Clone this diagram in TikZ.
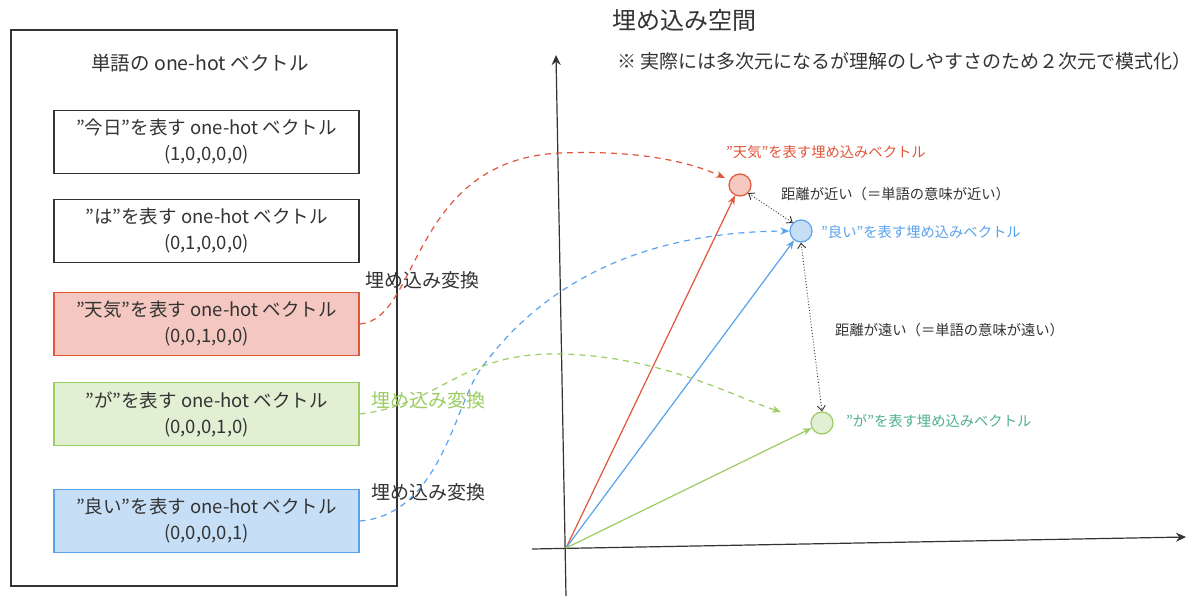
\documentclass[tikz,border=0pt]{standalone}
\usepackage{fontspec}
\setmainfont{Noto Sans CJK JP}
\usetikzlibrary{arrows.meta}
\definecolor{tred}{HTML}{E0563B}
\definecolor{tredf}{HTML}{F4C7C0}
\definecolor{tblue}{HTML}{5AA2EE}
\definecolor{tbluef}{HTML}{C6DFF7}
\definecolor{tgreen}{HTML}{9BCD63}
\definecolor{tgreenf}{HTML}{E1EFD3}
\definecolor{tteal}{HTML}{4FB090}
\definecolor{tgray}{HTML}{333333}
\tikzset{
  x=1pt,y=-1pt,
  wbox/.style={draw=tgray,line width=1.2pt,minimum width=305pt,minimum height=63pt,align=center,font=\fontsize{18.5}{26}\selectfont,text=tgray,inner sep=0pt},
  lbl/.style={font=\fontsize{14.3}{16}\selectfont,inner sep=0pt},
  tlbl/.style={font=\fontsize{19}{22}\selectfont,inner sep=0pt},
  pt/.style={circle,minimum size=22pt,inner sep=0pt,line width=1.2pt},
  vec/.style={line width=1.2pt,-{Stealth[length=9pt,width=7pt]}},
  dsh/.style={line width=1.2pt,dash pattern=on 6pt off 5pt,-{Stealth[length=9pt,width=7pt]}},
  dist/.style={line width=0.9pt,dotted,tgray,{Straight Barb[length=5pt,width=8pt]}-{Straight Barb[length=5pt,width=8pt]}},
}
\begin{document}
\begin{tikzpicture}
\useasboundingbox (0,0) rectangle (1200,599);
\fill[white] (0,0) rectangle (1200,599);
% left panel
\node[draw=tgray,line width=1.2pt,minimum width=386pt,minimum height=556pt,inner sep=0pt] (panel) at (204,308) {};
\node[font=\fontsize{19.5}{22}\selectfont,text=tgray,inner sep=0pt] (ptitle) at (200,63) {単語の one-hot ベクトル};
\node[wbox] (b1) at (206.5,142) {"今日"を表す one-hot ベクトル\\(1,0,0,0,0)};
\node[wbox] (b2) at (206.5,231) {"は"を表す one-hot ベクトル\\(0,1,0,0,0)};
\node[wbox,draw=tred,fill=tredf] (b3) at (206.5,324) {"天気"を表す one-hot ベクトル\\(0,0,1,0,0)};
\node[wbox,draw=tgreen,fill=tgreenf] (b4) at (206.5,414) {"が"を表す one-hot ベクトル\\(0,0,0,1,0)};
\node[wbox,draw=tblue,fill=tbluef] (b5) at (206.5,521) {"良い"を表す one-hot ベクトル\\(0,0,0,0,1)};
% transform labels
\node[tlbl,text=tgray] (t1) at (422,280) {埋め込み変換};
\node[tlbl,text=tgreen] (t2) at (428,400) {埋め込み変換};
\node[tlbl,text=tgray] (t3) at (428,492) {埋め込み変換};
% titles
\node[font=\fontsize{24}{28}\selectfont,text=tgray,inner sep=0pt] (title) at (684,20) {埋め込み空間};
\node[font=\fontsize{19}{22}\selectfont,text=tgray,inner sep=0pt,anchor=west] (note) at (617,61) {※ 実際には多次元になるが理解のしやすさのため２次元で模式化）};
% axes
\coordinate (o) at (566,548);
\coordinate (ybot) at (566,596);
\coordinate (ytop) at (556,55);
\coordinate (xl) at (532,549);
\coordinate (xr) at (1186,537);
\draw[tgray,line width=1.2pt,-{Stealth[length=10pt,width=9pt]}] (ybot) -- (ytop);
\draw[tgray,line width=1.2pt,-{Stealth[length=10pt,width=9pt]}] (xl) -- (xr);
% points
\node[pt,draw=tred,fill=tredf] (pr) at (740,185) {};
\node[pt,draw=tblue,fill=tbluef] (pb) at (801,231) {};
\node[pt,draw=tgreen,fill=tgreenf] (pg) at (822,423) {};
\node[lbl,text=tred,anchor=west] (lr) at (726,152) {"天気"を表す埋め込みベクトル};
\node[lbl,text=tblue,anchor=west] (lb) at (821,232) {"良い"を表す埋め込みベクトル};
\node[lbl,text=tteal,anchor=west] (lg) at (846,421) {"が"を表す埋め込みベクトル};
\node[lbl,text=tgray,anchor=west] (dn) at (781,194) {距離が近い（＝単語の意味が近い）};
\node[lbl,text=tgray,anchor=west] (df) at (835,330) {距離が遠い（＝単語の意味が遠い）};
% vectors
\draw[vec,tred] (o) -- (pr);
\draw[vec,tblue] (o) -- (pb);
\draw[vec,tgreen] (o) -- (pg);
% distances
\draw[dist] (pr.south east) -- (pb.north west);
\draw[dist] (pb.south) -- (pg.north);
% dashed transforms
\coordinate (ar) at (725,178);
\coordinate (ag) at (781,412);
\draw[dsh,tred] (b3.east) .. controls (420,320) and (410,160) .. (560,153) .. controls (640,150) and (690,162) .. (ar);
\draw[dsh,tgreen] (b4.east) .. controls (440,405) and (460,352) .. (560,354) .. controls (660,356) and (730,395) .. (ag);
\draw[dsh,tblue] (b5.east) .. controls (440,515) and (455,405) .. (480,370) .. controls (530,300) and (620,232) .. (pb.west);
\end{tikzpicture}
\end{document}
